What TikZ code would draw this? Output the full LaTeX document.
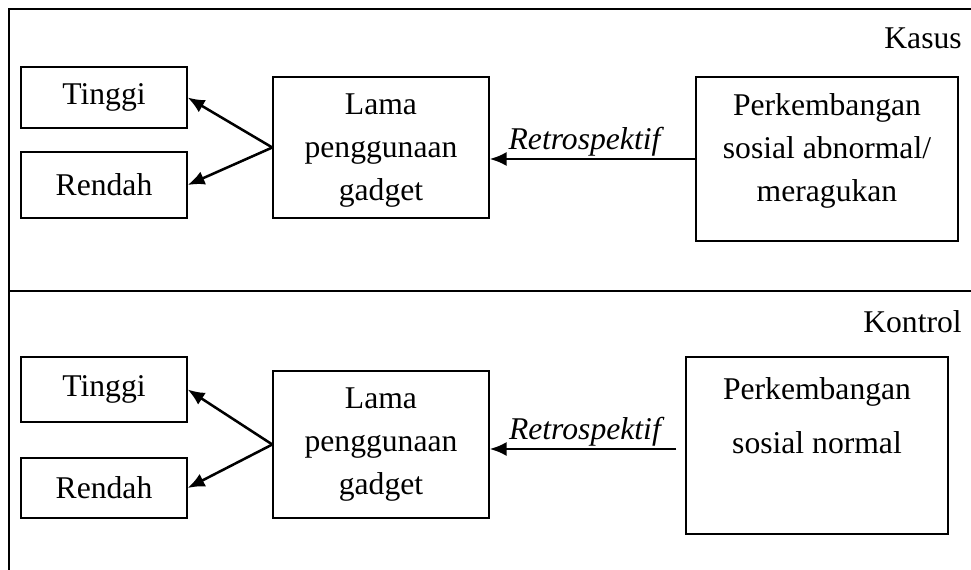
\documentclass[tikz,border=0pt]{standalone}
\usepackage{fontspec}
\setmainfont{Liberation Serif}
\usetikzlibrary{arrows.meta,calc}

\def\px{0.025cm}

\begin{document}
\begin{tikzpicture}[x=\px, y=-\px, > = {Latex[length=12pt,width=10pt]},
    font=\fontsize{22.5}{30.5}\selectfont,
    kotak/.style 2 args={draw, line width=1pt, align=center, inner sep=0pt,
        minimum width=#1*\px, minimum height=#2*\px},
    panah/.style={->, line width=1.8pt}]
    \useasboundingbox (0,0) rectangle (971,570);
    % Frame
    \draw [line width=1pt] (971,9) -- (9,9) -- (9,570);
    \draw [line width=1pt] (9,291) -- (971,291);
    \node [anchor=base east, inner sep=0pt] (kasus) at (962,49) {Kasus};
    \node [anchor=base east, inner sep=0pt] (kontrol) at (962,332) {Kontrol};

    % Kasus
    \node [kotak={166}{61}] (tinggiA) at (104,97.5) {Tinggi};
    \node [kotak={166}{66}] (rendahA) at (104,185) {Rendah};
    \node [kotak={216}{141}] (lamaA) at (381,147.5) {};
    \node [align=center] (lamaAtext) at ($(lamaA.center)+(0,3)$)
        {Lama\\penggunaan\\gadget};
    \node [kotak={262}{164}] (perkA) at (827,159) {};
    \node [align=center] (perkAtext) at ($(perkA.center)+(0,-8)$)
        {Perkembangan\\sosial abnormal/\\meragukan};
    \draw [panah] (perkA.west) -- (lamaA.east |- perkA.west)
        node [pos=0.53, above, inner sep=1pt] {\textit{Retrospektif}};
    \draw [panah] (lamaA.west) -- (tinggiA.east);
    \draw [panah] (lamaA.west) -- (rendahA.east);

    % Kontrol
    \node [kotak={166}{65}] (tinggiB) at (104,389.5) {Tinggi};
    \node [kotak={166}{60}] (rendahB) at (104,488) {Rendah};
    \node [kotak={216}{147}] (lamaB) at (381,444.5) {};
    \node [align=center] (lamaBtext) at ($(lamaB.center)+(0,0)$)
        {Lama\\penggunaan\\gadget};
    \node [kotak={262}{177}] (perkB) at (817,445.5) {};
    \node [align=center] (perkBtext) at ($(perkB.center)+(0,-30)$)
        {Perkembangan\\[8pt]sosial normal};
    \coordinate (ujungB) at ($(perkB.west)+(-9,3.5)$);
    \draw [panah] (ujungB) -- (lamaB.east |- ujungB)
        node [pos=0.48, above, inner sep=1pt] {\textit{Retrospektif}};
    \draw [panah] (lamaB.west) -- (tinggiB.east);
    \draw [panah] (lamaB.west) -- (rendahB.east);

\end{tikzpicture}
\end{document}
